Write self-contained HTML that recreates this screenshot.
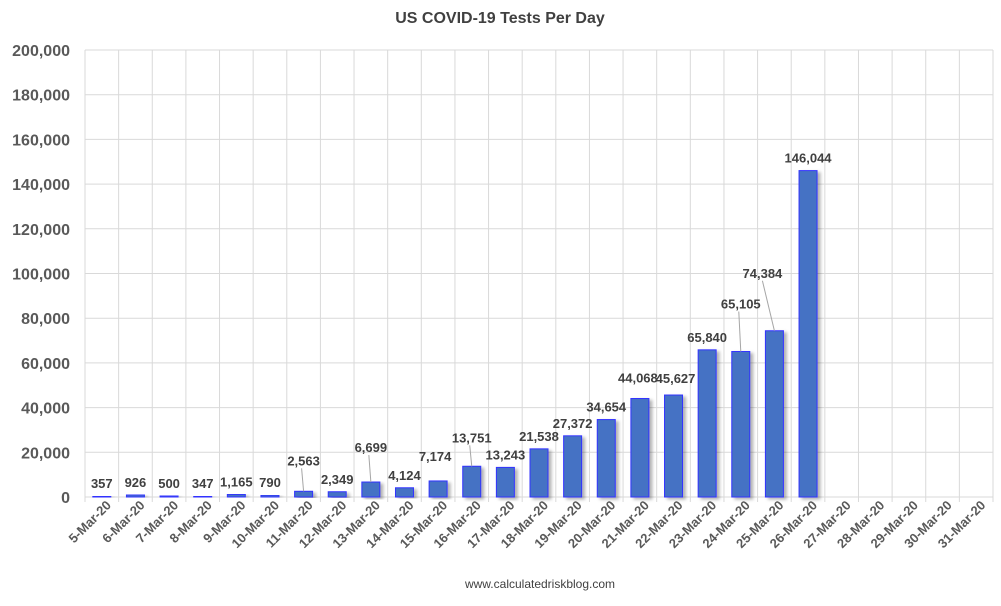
<!DOCTYPE html>
<html><head><meta charset="utf-8"><style>
body{margin:0;background:#fff;width:1001px;height:601px;overflow:hidden;font-family:"Liberation Sans",Arial,sans-serif}
</style></head><body>
<svg id="chart" width="1001" height="601" xmlns="http://www.w3.org/2000/svg">
<defs><filter id="sh" x="-20%" y="-5%" width="160%" height="120%"><feDropShadow dx="3" dy="2" stdDeviation="1.5" flood-color="#000" flood-opacity="0.3"/></filter></defs>
<rect x="0" y="0" width="1001" height="601" fill="#fff"/>
<text x="500" y="23" text-anchor="middle" font-size="16" font-weight="bold" fill="#404040">US COVID-19 Tests Per Day</text>
<g id="grid"></g><g id="bars"></g><g id="labels"></g><g id="yt"></g><g id="xt"></g>
<text x="540" y="588" text-anchor="middle" font-size="12" fill="#404040">www.calculatedriskblog.com</text>
</svg>
<script>
const categories=["5-Mar-20","6-Mar-20","7-Mar-20","8-Mar-20","9-Mar-20","10-Mar-20","11-Mar-20","12-Mar-20","13-Mar-20","14-Mar-20","15-Mar-20","16-Mar-20","17-Mar-20","18-Mar-20","19-Mar-20","20-Mar-20","21-Mar-20","22-Mar-20","23-Mar-20","24-Mar-20","25-Mar-20","26-Mar-20","27-Mar-20","28-Mar-20","29-Mar-20","30-Mar-20","31-Mar-20"];
const tests=[357,926,500,347,1165,790,2563,2349,6699,4124,7174,13751,13243,21538,27372,34654,44068,45627,65840,65105,74384,146044,null,null,null,null,null];
const yTicks=[0,20000,40000,60000,80000,100000,120000,140000,160000,180000,200000];
const labelLift=[0,0,0,0,0,0,18,0,22,0,12,16,0,0,0,0,8,4,0,35,45,0,0,0,0,0,0];
const labelShift=[0,0,0,0,0,0,0,0,0,0,-3,0,0,0,0,0,-2,2,0,0,-12,0,0,0,0,0,0];
const NS="http://www.w3.org/2000/svg";
const L=85,R=993,T=50,B=497,yMax=200000;
const bw=(R-L)/categories.length;
const y=v=>B-(v/yMax)*(B-T);
const x=i=>L+bw*(i+0.5);
function mk(t,a,p){const e=document.createElementNS(NS,t);for(const k in a)e.setAttribute(k,a[k]);p.appendChild(e);return e;}
const g=document.getElementById('grid'),yt=document.getElementById('yt'),xt=document.getElementById('xt'),bars=document.getElementById('bars'),lab=document.getElementById('labels');
yTicks.forEach(v=>{
 const ln=mk('line',{x1:L,x2:R,y1:y(v),y2:y(v),stroke:'#d9d9d9','stroke-width':1},g);
 
 
 const t=mk('text',{x:L-15,y:y(v)+6,'text-anchor':'end','font-size':16,'font-weight':'bold',fill:'#595959'},yt);
 t.textContent=v.toLocaleString('en-US');
 
 
});
for(let i=0;i<=categories.length;i++){
 const xx=L+bw*i;
 const ln=mk('line',{x1:xx,x2:xx,y1:T,y2:B+5,stroke:'#d9d9d9','stroke-width':1},g);
 
 
}
categories.forEach((c,i)=>{
 const t=mk('text',{transform:`translate(${x(i)+10},${B+9}) rotate(-45)`,'text-anchor':'end','font-size':13,'font-weight':'bold',fill:'#595959'},xt);
 t.textContent=c;
 
 
 const v=tests[i];
 if(v==null)return;
 const w=18,top=y(v);
 const r=mk('rect',{x:x(i)-w/2,y:top,width:w,height:Math.max(B-top,0.5),fill:'#4472c4',stroke:'#3333ff','stroke-width':1,filter:'url(#sh)'},bars);
 
 
 const lift=labelLift[i],lx=x(i)+labelShift[i],ly=top-8-lift;
 if(lift>12){
  const ll=mk('line',{x1:x(i),y1:top,x2:lx+(labelShift[i]?0:-2),y2:ly+3,stroke:'#a6a6a6','stroke-width':1},lab);
  
  
 }
 const tl=mk('text',{x:lx,y:ly,'text-anchor':'middle','font-size':13,'font-weight':'bold',fill:'#404040'},lab);
 tl.textContent=v.toLocaleString('en-US');
 
 
});
</script>
</body></html>
